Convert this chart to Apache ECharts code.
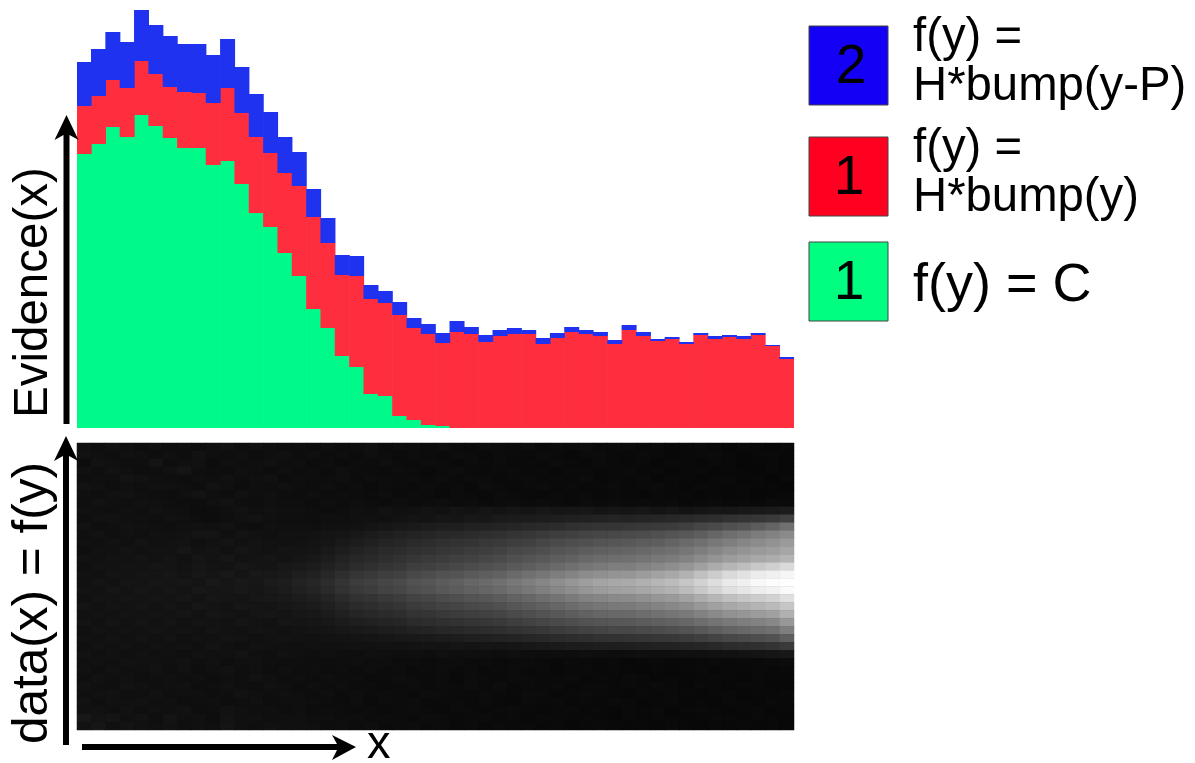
<!DOCTYPE html>
<html><head><meta charset="utf-8">
<style>html,body{margin:0;padding:0;background:#fff}#c{width:1195px;height:763px}</style>
<script src="https://cdn.jsdelivr.net/npm/echarts@6/dist/echarts.min.js"></script>
</head><body><div id="c"></div>
<script>
const seriesConstant = [274,284,301,291,313,302,290,280,280,263,267,244,215,201,175,152,119,100,72,61,34,32,12,8,3,2,0,0,0,0,0,0,0,0,0,0,0,0,0,0,0,0,0,0,0,0,0,0,0,0];
const seriesBump = [48,48,47,49,54,52,51,56,55,62,73,71,76,74,80,90,92,85,81,91,95,93,101,92,91,83,96,94,86,92,94,94,84,90,96,94,92,84,98,92,87,89,84,93,89,91,89,93,82,69];
const seriesBumpShift = [44,47,48,46,51,49,51,48,49,48,49,46,43,41,36,34,28,25,20,20,14,12,13,10,10,10,11,7,7,6,6,4,6,5,5,4,4,4,5,4,2,2,2,2,3,2,3,2,1,2];
const grayRows = [
[16,14,17,15,13,16,14,15,13,15,17,14,16,15,13,14,12,15,13,14,16,12,14,13,12,14,12,11,13,12,11,13,10,12,11,13,10,11,12,10,11,9,10,11,9,8,10,9,8,9],
[18,16,15,17,16,14,16,14,18,15,14,16,13,15,16,13,15,13,14,12,15,13,11,13,12,11,13,12,10,12,11,10,12,11,9,11,12,10,9,11,10,8,9,10,11,9,8,9,10,8],
[13,18,16,14,15,20,14,16,17,13,16,14,15,17,14,15,12,14,11,13,12,14,12,11,13,12,10,12,11,12,10,11,10,12,10,9,11,10,9,10,8,10,9,8,10,9,7,8,9,8],
[17,15,18,16,14,15,17,21,15,14,13,16,15,13,15,13,14,12,15,13,12,11,13,12,10,12,13,11,10,11,12,10,11,9,11,10,9,10,11,9,10,8,9,10,8,9,8,7,9,8],
[14,16,15,19,18,16,15,14,16,15,17,14,16,17,13,15,14,13,15,12,14,13,12,13,11,13,11,12,12,10,11,12,10,11,10,12,9,10,9,11,8,10,9,8,9,10,8,9,7,9],
[18,17,14,16,15,17,16,15,14,18,16,13,15,14,16,14,13,15,12,14,11,13,12,11,13,11,12,10,13,11,10,11,12,10,11,9,10,11,9,10,11,9,8,10,9,8,9,8,8,7],
[16,15,17,18,16,15,14,16,19,15,14,17,15,16,14,13,15,12,14,13,12,14,11,13,12,10,12,11,10,12,11,10,9,11,10,11,9,10,9,8,10,9,10,8,9,8,9,7,8,9],
[15,18,16,15,17,16,15,14,14,16,18,15,14,16,15,14,13,15,13,15,13,12,14,12,13,14,12,13,11,12,13,11,12,11,10,12,11,12,10,11,10,11,9,10,11,9,10,9,11,10],
[17,16,15,17,15,18,16,15,13,14,16,18,15,17,16,15,14,13,14,16,15,18,16,17,19,17,20,18,21,19,22,20,23,21,22,23,20,22,21,23,20,22,19,21,23,22,24,25,26,28],
[15,17,18,16,16,15,17,16,14,13,15,17,19,16,15,15,14,16,15,16,17,16,18,20,19,22,21,24,23,26,27,28,29,30,32,33,34,36,35,37,38,40,42,44,46,50,52,54,58,64],
[18,15,16,18,17,16,15,17,17,16,18,15,14,17,16,16,15,17,17,18,20,22,24,26,28,30,30,33,34,36,38,40,42,44,48,50,52,52,54,56,58,60,64,70,74,80,84,92,100,112],
[16,18,15,17,16,18,17,18,20,20,16,19,17,16,18,17,18,20,21,24,27,30,33,35,37,40,41,44,46,48,52,54,58,62,64,68,70,72,74,76,80,84,88,94,102,110,116,124,130,138],
[17,16,18,16,19,17,18,19,16,18,20,17,19,18,17,18,19,22,25,28,32,36,38,42,44,48,50,52,56,58,62,64,70,74,78,80,84,86,88,92,94,100,106,112,120,126,134,140,146,154],
[15,18,17,19,17,19,18,22,18,20,17,21,19,18,20,20,21,25,29,34,38,42,44,48,50,54,56,60,62,66,72,74,78,84,88,92,96,98,100,104,108,112,118,126,134,142,148,154,158,166],
[18,17,19,18,20,18,20,17,21,19,22,18,20,21,19,22,24,28,34,39,42,46,50,54,58,60,64,66,70,74,80,84,88,94,98,104,108,110,112,116,120,124,130,140,148,156,162,168,172,180],
[16,19,18,20,19,21,20,18,22,20,19,23,21,20,24,25,28,33,38,44,48,52,55,62,64,68,72,76,80,84,90,94,100,106,112,118,122,126,126,132,136,142,150,160,172,182,190,200,208,218],
[18,17,20,19,21,20,22,19,23,21,24,20,25,24,26,30,33,39,46,53,57,62,65,72,76,82,84,90,94,98,106,112,118,126,132,140,144,148,150,156,162,168,178,192,204,218,226,236,240,246],
[17,20,18,21,20,22,21,23,20,24,22,25,23,27,29,34,38,44,52,60,64,70,74,82,86,92,96,102,106,112,120,126,134,142,150,158,164,168,170,176,182,188,198,210,222,234,240,248,252,255],
[19,18,21,19,22,20,22,19,23,21,22,24,22,25,28,32,36,42,50,57,61,67,70,78,82,88,92,97,101,106,114,120,127,135,142,150,156,160,162,167,172,178,188,200,212,224,230,238,242,250],
[17,20,19,21,20,21,20,22,19,22,21,20,23,24,25,28,31,36,42,49,52,57,61,67,70,75,79,84,87,92,98,103,110,116,123,130,134,138,139,144,150,154,162,172,182,192,198,204,210,224],
[20,18,20,19,21,19,21,18,22,20,19,22,21,20,23,25,27,32,37,43,46,50,53,59,62,66,69,73,76,80,86,91,96,102,108,114,118,121,122,127,131,136,142,152,160,168,174,180,186,198],
[17,19,18,20,19,20,19,21,18,21,20,18,21,22,20,23,24,27,32,37,40,43,46,51,53,57,60,63,66,69,74,78,83,88,93,98,102,104,105,109,113,117,122,130,138,146,150,156,160,176],
[19,17,20,18,20,18,20,17,20,19,18,21,19,18,21,21,22,24,27,31,33,36,38,43,45,48,50,53,55,58,62,66,70,74,78,82,85,87,88,92,95,98,103,110,116,122,126,130,136,152],
[16,19,17,19,18,20,18,19,17,20,18,17,20,19,17,19,20,21,23,25,27,29,31,34,36,39,40,43,45,47,50,53,56,60,63,66,69,71,71,74,76,79,83,88,94,100,104,108,112,126],
[18,17,19,17,19,17,19,16,18,17,19,18,16,18,19,18,17,19,19,20,21,22,24,25,26,28,29,31,32,34,36,38,40,43,45,47,49,50,51,53,55,56,59,63,67,72,74,78,82,94],
[16,18,17,18,16,18,17,18,16,19,17,15,18,17,16,16,17,16,17,18,17,18,18,19,20,19,21,20,22,21,22,24,25,26,28,28,30,30,31,32,34,34,36,38,40,44,46,48,52,58],
[18,16,18,16,18,16,17,15,18,16,17,19,16,15,17,16,15,16,15,14,16,15,14,15,14,16,14,15,14,13,15,14,13,14,13,15,14,13,14,15,14,15,16,16,17,18,19,20,22,24],
[16,17,16,18,17,17,16,18,15,17,14,16,17,15,14,15,14,13,14,15,13,14,12,13,11,12,13,11,12,10,11,12,10,9,11,10,9,10,8,9,10,9,8,9,10,9,10,10,11,12],
[17,15,18,16,16,18,15,17,14,16,18,15,16,14,16,14,15,13,14,12,14,12,13,11,12,13,11,12,10,11,12,10,11,9,10,11,9,10,9,8,9,8,9,10,8,9,9,10,9,10],
[15,18,16,17,15,16,17,15,16,14,16,15,18,16,14,15,13,15,13,13,11,12,14,12,11,12,10,12,11,10,12,11,10,10,11,9,10,9,11,10,8,9,8,9,10,9,8,10,9,9],
[18,16,15,18,17,15,16,17,14,15,17,15,14,17,15,13,15,13,14,12,13,11,12,13,11,12,11,13,11,13,10,11,10,11,9,10,11,9,10,9,11,9,8,10,9,8,10,9,8,8],
[16,17,18,15,16,18,15,16,16,14,15,18,16,15,16,14,13,15,12,14,12,13,12,11,13,12,11,10,12,11,10,12,11,9,10,11,10,9,8,10,9,10,9,8,9,10,8,9,9,10],
[19,15,17,16,18,16,17,14,15,16,14,15,17,14,15,15,14,13,12,14,11,13,12,13,10,11,12,10,12,10,9,11,10,11,9,10,9,11,10,8,9,10,8,9,8,10,9,8,10,9],
[17,18,15,18,15,17,16,18,14,15,18,16,15,16,14,15,13,14,13,12,13,11,12,13,11,10,12,11,10,11,12,10,9,10,11,9,10,8,10,9,10,8,9,10,9,8,9,10,8,9],
[24,19,21,16,19,15,20,16,17,14,19,16,17,15,16,16,14,15,13,14,12,13,12,11,13,12,10,11,12,10,11,9,11,10,9,10,9,8,10,9,10,9,8,9,10,9,8,10,9,8],
[18,22,16,19,17,16,18,15,16,15,20,16,15,17,16,16,15,13,14,12,14,11,12,13,11,12,10,11,9,11,10,11,9,10,8,9,10,9,8,9,8,10,9,8,9,8,9,8,9,8]
];
const xCategories = seriesConstant.map((_, i) => String(i + 1));
const heatColumns = grayRows[0].map((_, i) => String(i));
const heatRowsLabels = grayRows.map((_, i) => String(i));
const heatCells = [];
grayRows.forEach((row, r) => row.forEach((v, c) => heatCells.push([c, r, v])));

const FONT = '"Liberation Sans", Arial, sans-serif';
const swatches = [
  {top: 26, fill: '#1400f5', digit: '2', dx: 851},
  {top: 137, fill: '#ff0020', digit: '1', dx: 849},
  {top: 242, fill: '#00ff80', digit: '1', dx: 849}
];
const labels = [
  {t: 'f(y) =', x: 913, base: 55, s: 47.3},
  {t: 'H*bump(y-P)', x: 913, base: 104, s: 47.3},
  {t: 'f(y) =', x: 913, base: 166, s: 47.3},
  {t: 'H*bump(y)', x: 913, base: 215, s: 47.3},
  {t: 'f(y) = C', x: 913, base: 305, s: 54},
  {t: 'x', x: 367, base: 762, s: 47}
];
const gfx = [];
function txt(t, x, base, s, align) {
  return {type: 'text', x: x, y: base - s * 0.5 + s * 0.145, z: 100,
    style: {text: t, fontSize: s, fontFamily: FONT, fill: '#000', textAlign: align || 'left', verticalAlign: 'middle'}};
}
swatches.forEach(o => {
  gfx.push({type: 'rect', shape: {x: 809, y: o.top, width: 79, height: 79}, z: 90,
    style: {fill: o.fill, stroke: '#444', lineWidth: 1}});
  gfx.push(txt(o.digit, o.dx, o.top + 61, 55, 'center'));
});
labels.forEach(l => gfx.push(txt(l.t, l.x, l.base, l.s)));
function vtxt(t, baseX, bottomY, s) {
  return {type: 'text', x: baseX - s * 0.355, y: bottomY, rotation: Math.PI / 2, z: 100,
    style: {text: t, fontSize: s, fontFamily: FONT, fill: '#000', textAlign: 'left', verticalAlign: 'middle'}};
}
gfx.push(vtxt('Evidence(x)', 51, 418, 47.5));
gfx.push(vtxt('data(x) = f(y)', 51, 744, 49.5));
function vArrow(x, top, bottom) {
  return {type: 'polygon', z: 110, shape: {points: [
    [x, top], [x + 12, top + 25], [x + 3, top + 20], [x + 3, bottom], [x - 3, bottom], [x - 3, top + 20], [x - 12, top + 25]
  ]}, style: {fill: '#000'}};
}
gfx.push(vArrow(66.5, 115, 424));
gfx.push(vArrow(66, 436, 745));
gfx.push({type: 'polygon', z: 110, shape: {points: [
  [356, 747], [332, 760], [337, 750], [82, 750], [82, 744], [337, 744], [332, 735]
]}, style: {fill: '#000'}});

const barBase = {type: 'bar', stack: 'evidence', barWidth: 15, barGap: '-100%', xAxisIndex: 0, yAxisIndex: 0, silent: true, animation: false};
echarts.init(document.getElementById('c'), null, {renderer: 'canvas'}).setOption({
  animation: false,
  backgroundColor: '#fff',
  grid: [
    {left: 77, top: 10, width: 717, height: 418},
    {left: 77, top: 443, width: 717, height: 287, show: true, borderWidth: 0, backgroundColor: '#101010'}
  ],
  xAxis: [
    {type: 'category', gridIndex: 0, data: xCategories, show: false},
    {type: 'category', gridIndex: 1, data: heatColumns, show: false}
  ],
  yAxis: [
    {type: 'value', gridIndex: 0, min: 0, max: 418, show: false},
    {type: 'category', gridIndex: 1, data: heatRowsLabels, inverse: true, show: false}
  ],
  visualMap: {show: false, min: 0, max: 255, seriesIndex: 3, inRange: {color: ['#000000', '#ffffff']}},
  series: [
    Object.assign({}, barBase, {name: 'f(y) = C', data: seriesConstant, itemStyle: {color: '#00fa8a'}}),
    Object.assign({}, barBase, {name: 'f(y) = H*bump(y)', data: seriesBump, itemStyle: {color: '#ff2e3e'}}),
    Object.assign({}, barBase, {name: 'f(y) = H*bump(y-P)', data: seriesBumpShift, itemStyle: {color: '#1e32f0'}}),
    {type: 'heatmap', xAxisIndex: 1, yAxisIndex: 1, data: heatCells, silent: true, progressive: 0, itemStyle: {borderWidth: 0}}
  ],
  graphic: gfx
});
</script></body></html>
